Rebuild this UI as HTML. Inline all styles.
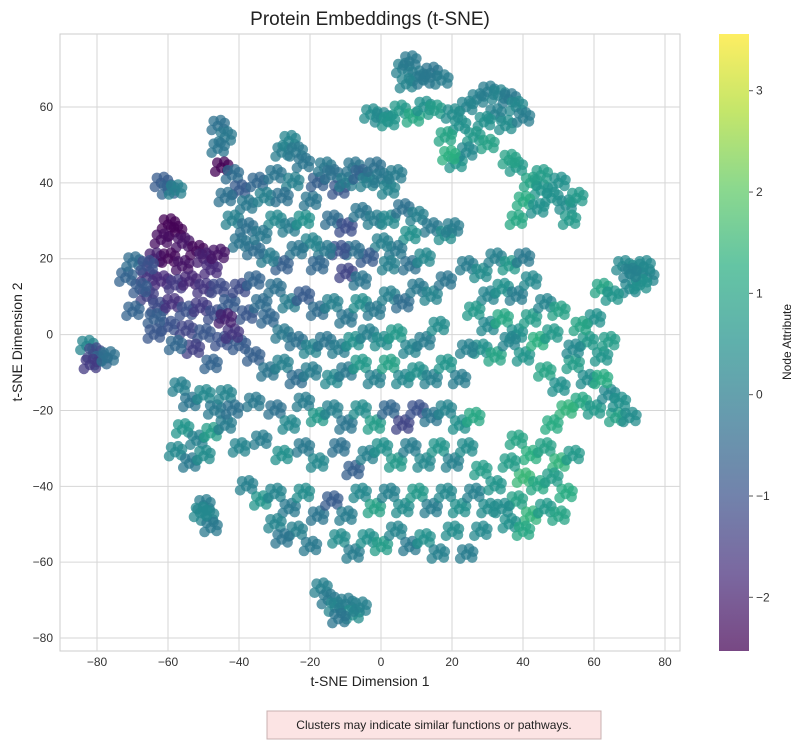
<!DOCTYPE html>
<html><head><meta charset="utf-8">
<style>
body{margin:0;background:#fff;}
svg{display:block;font-family:"Liberation Sans","DejaVu Sans",sans-serif;}
</style></head>
<body>
<svg id="chart" width="798" height="743" viewBox="0 0 798 743">
<defs>
<linearGradient id="cbgrad" x1="0" y1="1" x2="0" y2="0">
<stop offset="0" stop-color="#440154"/><stop offset="0.125" stop-color="#472d7b"/><stop offset="0.25" stop-color="#3b528b"/><stop offset="0.375" stop-color="#2c728e"/><stop offset="0.5" stop-color="#21918c"/><stop offset="0.625" stop-color="#28ae80"/><stop offset="0.75" stop-color="#5ec962"/><stop offset="0.875" stop-color="#addc30"/><stop offset="1" stop-color="#fde725"/>
</linearGradient>
</defs>
<rect x="60" y="34" width="620" height="617" fill="#fff" stroke="#cccccc"/>
<g id="grid"></g>
<g id="marks"></g>
<g id="ticks"></g>
<text x="370" y="25" text-anchor="middle" font-size="19" fill="#222">Protein Embeddings (t-SNE)</text>
<text x="370" y="686" text-anchor="middle" font-size="14" fill="#222">t-SNE Dimension 1</text>
<text x="22" y="342" text-anchor="middle" font-size="14" fill="#222" transform="rotate(-90 22 342)">t-SNE Dimension 2</text>
<rect x="719" y="34" width="30" height="617" fill="url(#cbgrad)" opacity="0.72"/>
<g id="cbticks"></g>
<text x="791" y="342" text-anchor="middle" font-size="12" fill="#222" transform="rotate(-90 791 342)">Node Attribute</text>
<rect x="267" y="711" width="334" height="28" fill="#fce4e4" stroke="#c8b0b0"/>
<text x="434" y="729" text-anchor="middle" font-size="12" fill="#222">Clusters may indicate similar functions or pathways.</text>
</svg>
<script>
const xTicks=[-80,-60,-40,-20,0,20,40,60,80];
const yTicks=[-80,-60,-40,-20,0,20,40,60];
const cbTicks=[-2,-1,0,1,2,3];
const vMin=-2.53, vMax=3.56;
// points: [x, y, value]
const pts=[
[6,70,0.1],[8,72,-0.1],[10,68,0.0],[14,69,-0.2],[17,67,0.0],[7,66,0.2],[12,67,-0.1],
[5,59,0.7],[9,57,1.1],[12,60,0.5],[15,59,0.8],[-3,58,0.4],[0,57,0.3],[2,56,0.6],
[27,62,0.1],[30,64,0.0],[33,63,0.2],[36,62,-0.1],[38,60,0.3],[32,58,0.1],[29,56,0.5],[35,55,0.4],[40,57,0.0],[26,52,0.7],[30,50,0.9],[24,60,0.2],[22,55,0.5],[20,58,0.4],[18,52,1.0],[21,45,0.6],[24,48,0.3],[19,47,1.3],
[38,44,0.7],[42,40,1.0],[45,38,0.6],[48,36,0.5],[52,34,0.4],[55,36,0.7],[40,35,1.2],[45,42,0.8],[50,40,0.5],[38,30,1.1],[44,33,0.5],[53,30,0.7],[36,46,0.9],
[68,18,0.3],[72,17,0.4],[75,15,0.2],[70,12,0.3],[73,13,0.5],[62,12,1.0],[65,10,0.6],[74,18,0.3],[70,16,0.1],
[-46,55,-0.3],[-44,52,-0.1],[-46,49,-0.2],[-45,44,-2.5],[-42,42,-0.4],[-40,38,-0.8],[-44,36,-0.3],[-38,34,-0.1],[-35,40,-0.5],[-33,36,0.1],[-30,42,-0.2],[-28,48,0.0],[-26,51,0.2],[-24,48,-0.1],[-22,45,-0.2],[-25,40,0.1],[-28,36,-0.3],[-30,30,0.3],[-26,28,0.0],[-22,30,0.5],[-20,35,-0.2],[-18,40,-0.7],[-16,44,-0.1],[-14,42,-0.3],[-12,38,-0.9],[-10,40,0.0],[-8,44,-0.2],[-6,42,-0.6],[-4,40,0.1],[-2,44,-0.3],[0,41,-0.1],[2,38,0.2],[4,42,0.0],[-14,30,-0.4],[-10,28,-1.1],[-6,32,-0.2],[-2,30,0.0],[2,30,0.3],[6,33,-0.3],[10,31,0.1],[14,28,-0.1],[18,26,0.4],[20,28,0.0],[8,26,0.5],[4,22,-0.1],[0,24,0.1],[-4,20,-0.8],[-8,22,-0.3],[-12,22,-1.0],[-16,22,-0.1],[-20,24,0.2],[-24,22,-0.2],[-28,18,-0.7],[-32,20,0.0],[-36,22,-0.4],[-40,24,-0.2],[-42,30,0.1],[-38,28,-0.3],[-34,26,-0.1],[-18,18,-0.5],[-10,16,-1.3],[-6,14,-0.2],
[-60,29,-2.5],[-58,27,-2.5],[-62,25,-2.3],[-56,24,-2.2],[-64,20,-2.0],[-60,20,-2.4],[-56,18,-2.2],[-52,22,-2.4],[-50,20,-2.0],[-48,17,-1.8],[-46,21,-2.2],[-66,15,-1.6],[-62,14,-1.8],[-58,13,-1.5],[-54,14,-1.9],[-50,12,-1.6],[-46,12,-1.2],[-66,10,-1.4],[-63,7,-1.2],[-59,8,-1.7],[-55,6,-1.0],[-51,7,-1.5],[-47,5,-1.1],[-43,8,-0.8],[-40,12,-1.2],[-36,14,-0.6],[-60,2,-1.0],[-55,1,-1.3],[-50,0,-0.9],[-45,-2,-1.0],[-40,-3,-0.8],[-48,-8,-0.6],[-38,5,-0.9],[-34,8,-0.4],[-62,40,-0.8],[-60,38,-0.6],[-58,38,0.1],[-64,4,-0.7],[-53,-4,-1.4],[-58,-3,-0.5],[-42,0,-1.6],[-44,4,-2.0],
[-83,-3,0.2],[-81,-5,-1.2],[-79,-7,-0.5],[-82,-8,-1.5],[-77,-6,-0.3],
[-30,12,-0.3],[-26,8,0.0],[-22,10,-0.8],[-18,6,-0.4],[-14,8,0.1],[-10,4,-0.2],[-6,8,0.4],[-2,6,-0.1],[2,10,0.1],[6,8,-0.4],[10,12,-0.1],[14,10,0.2],[18,14,-0.2],[2,18,0.1],[8,18,-0.3],[12,20,0.3],[-32,4,-0.5],[-28,0,-0.1],[-24,-2,-0.3],[-20,-4,0.2],[-16,-2,-0.2],[-12,-4,0.0],[-8,-2,0.5],[-4,0,0.1],[0,-2,0.4],[4,0,0.7],[8,-4,0.2],[12,-2,0.0],[16,2,0.4],[-36,-6,-0.7],[-32,-10,-0.2],[-28,-8,0.1],[-24,-12,-0.4],[-20,-10,0.0],[-14,-12,0.3],[-10,-10,-0.1],[-6,-8,0.7],[-2,-12,0.1],[2,-8,0.9],[6,-12,0.3],[10,-10,0.5],[14,-12,0.1],[18,-8,0.6],[22,-12,0.0],
[-36,-18,-0.1],[-30,-20,-0.3],[-26,-24,0.3],[-22,-18,0.0],[-18,-22,0.7],[-14,-20,0.1],[-10,-24,-0.2],[-6,-20,0.4],[-2,-24,0.8],[2,-20,-0.5],[6,-24,-1.3],[10,-20,-1.0],[14,-22,-0.2],[18,-20,0.2],[22,-24,0.5],[26,-22,1.1],[-34,-28,0.0],[-28,-32,0.5],[-22,-30,-0.1],[-18,-34,0.3],[-12,-30,-0.3],[-8,-36,-0.7],[-4,-32,0.1],[0,-30,0.5],[4,-34,0.7],[8,-30,0.0],[12,-34,0.3],[16,-30,0.6],[20,-34,0.1],[24,-30,0.4],[28,-36,0.8],
[-38,-40,0.1],[-34,-44,0.6],[-30,-42,0.2],[-26,-46,-0.1],[-22,-42,0.4],[-18,-48,-0.2],[-14,-44,-0.8],[-10,-48,0.0],[-6,-42,0.3],[-2,-46,0.9],[2,-42,0.1],[6,-46,0.4],[10,-42,0.7],[14,-46,0.0],[18,-42,0.3],[22,-46,0.5],[26,-42,0.1],[30,-46,0.4],[-24,-52,0.1],[-20,-56,-0.1],[-12,-54,0.4],[-8,-58,0.0],[-4,-54,0.5],[0,-56,0.8],[4,-52,0.2],[8,-56,-0.1],[12,-54,0.5],[16,-58,0.1],[20,-52,0.4],[24,-58,0.0],[28,-52,0.3],[-30,-50,0.2],[-28,-54,-0.2],
[-17,-67,0.1],[-15,-70,-0.1],[-13,-72,0.2],[-10,-71,0.0],[-8,-74,0.4],[-12,-75,-0.2],[-6,-72,0.1],
[-57,-14,0.1],[-54,-18,-0.2],[-50,-16,0.3],[-47,-20,-0.1],[-44,-16,0.2],[-56,-25,0.6],[-52,-28,0.1],[-48,-26,0.8],[-44,-24,0.0],[-58,-31,0.3],[-54,-34,-0.1],[-50,-32,0.4],[-42,-20,-0.3],[-40,-30,0.2],
[-50,-45,0.0],[-49,-48,0.2],[-48,-51,-0.1],[-51,-47,0.3],
[24,18,0.0],[28,16,0.4],[32,20,0.1],[36,18,0.7],[40,20,-0.1],[30,10,0.2],[34,12,0.5],[38,10,0.0],[42,14,0.3],[26,6,0.7],[30,2,0.3],[34,4,1.1],[38,0,0.5],[42,4,0.8],[46,8,0.2],[28,-4,0.5],[32,-6,1.0],[36,-2,0.2],[40,-6,0.6],[44,-2,1.3],[48,0,0.7],[24,-4,0.1],[50,6,0.9],
[46,-10,1.0],[50,-14,0.5],[54,-8,0.8],[58,-12,0.4],[62,-6,0.6],[56,-18,1.1],[60,-20,0.7],[64,-16,0.3],[66,-22,0.9],[52,-20,1.4],[58,-2,0.7],[60,4,0.5],[64,-2,0.8],[56,2,1.0],[62,-12,1.2],[67,-18,0.5],[70,-22,0.4],[54,-4,0.3],
[38,-28,1.0],[42,-32,1.3],[46,-30,0.9],[50,-34,1.4],[54,-32,0.7],[40,-38,1.5],[44,-40,1.1],[48,-38,0.8],[52,-42,1.2],[38,-44,0.9],[42,-48,1.4],[46,-46,0.7],[50,-48,1.0],[36,-50,0.5],[40,-52,1.1],[32,-40,0.6],[34,-46,0.4],[48,-24,1.2],[36,-34,0.8],
[-72,15,-0.6],[-70,19,-0.4],[-68,12,-0.8],[-70,6,-0.6],[-64,0,-0.9],[-66,18,-1.0]
];
const NS='http://www.w3.org/2000/svg';
const L=60,R=680,T=34,B=651;
// fixed blob marker shape (pixel offsets) – each data point drawn as a small clump
const blob=[[0,0],[6,3],[-6,4],[3,-6],[-4,-5],[7,-3]];
function xs(v){return 381+v*3.55;}
function ys(v){return 334.6-v*3.793;}
function cbY(v){return 651-(v-vMin)/(vMax-vMin)*617;}
const stops=[[68,1,84],[71,45,123],[59,82,139],[44,114,142],[33,145,140],[40,174,128],[94,201,98],[173,220,48],[253,231,37]];
function viridis(v){
  let t=(v-vMin)/(vMax-vMin);t=Math.max(0,Math.min(1,t))*8;
  const i=Math.min(7,Math.floor(t)),f=t-i,a=stops[i],b=stops[i+1];
  return 'rgb('+a.map((c,k)=>Math.round(c+(b[k]-c)*f)).join(',')+')';
}
const grid=document.getElementById('grid'),ticks=document.getElementById('ticks'),marks=document.getElementById('marks'),cbt=document.getElementById('cbticks');
xTicks.forEach(t=>{
  const l=document.createElementNS(NS,'line');
  l.setAttribute('x1',xs(t));l.setAttribute('x2',xs(t));l.setAttribute('y1',T);l.setAttribute('y2',B);
  l.setAttribute('stroke','#d6d6d6');
  
  
  grid.appendChild(l);
  const tx=document.createElementNS(NS,'text');
  tx.setAttribute('x',xs(t));tx.setAttribute('y',666);tx.setAttribute('text-anchor','middle');tx.setAttribute('font-size','12');tx.setAttribute('fill','#333');
  tx.textContent=t<0?'\u2212'+(-t):t;
  
  
  ticks.appendChild(tx);
});
yTicks.forEach(t=>{
  const l=document.createElementNS(NS,'line');
  l.setAttribute('x1',L);l.setAttribute('x2',R);l.setAttribute('y1',ys(t));l.setAttribute('y2',ys(t));
  l.setAttribute('stroke','#d6d6d6');
  
  
  grid.appendChild(l);
  const tx=document.createElementNS(NS,'text');
  tx.setAttribute('x',53);tx.setAttribute('y',ys(t)+4);tx.setAttribute('text-anchor','end');tx.setAttribute('font-size','12');tx.setAttribute('fill','#333');
  tx.textContent=t<0?'\u2212'+(-t):t;
  
  
  ticks.appendChild(tx);
});
pts.forEach(p=>{
  const g=document.createElementNS(NS,'g');
  
  
  const cx=xs(p[0]),cy=ys(p[1]),col=viridis(p[2]);
  blob.forEach(o=>{
    const c=document.createElementNS(NS,'circle');
    c.setAttribute('cx',(cx+o[0]).toFixed(1));c.setAttribute('cy',(cy+o[1]).toFixed(1));c.setAttribute('r',5.3);
    c.setAttribute('fill',col);c.setAttribute('fill-opacity','0.75');
    g.appendChild(c);
  });
  marks.appendChild(g);
});
cbTicks.forEach(t=>{
  const l=document.createElementNS(NS,'line');
  l.setAttribute('x1',749);l.setAttribute('x2',753);l.setAttribute('y1',cbY(t));l.setAttribute('y2',cbY(t));l.setAttribute('stroke','#555');
  
  
  cbt.appendChild(l);
  const tx=document.createElementNS(NS,'text');
  tx.setAttribute('x',756);tx.setAttribute('y',cbY(t)+4);tx.setAttribute('font-size','12');tx.setAttribute('fill','#333');
  tx.textContent=t<0?'\u2212'+(-t):t;
  
  
  cbt.appendChild(tx);
});
</script>
</body></html>
